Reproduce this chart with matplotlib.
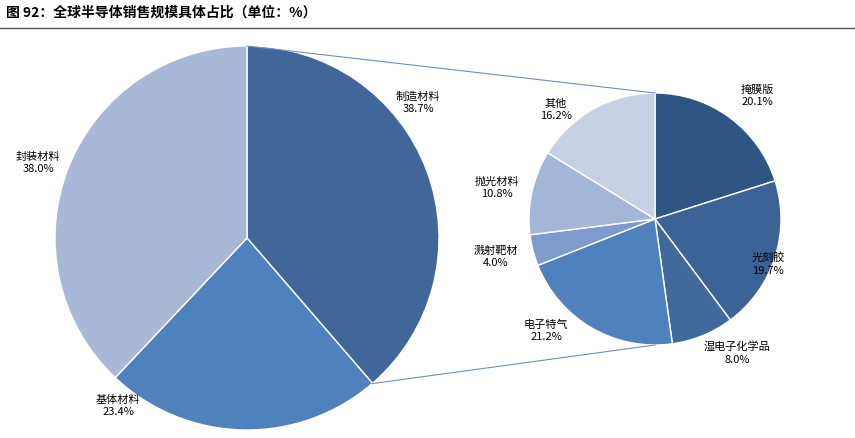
import matplotlib.pyplot as plt
import numpy as np

plt.rcParams['font.family'] = ['Noto Sans CJK SC', 'DejaVu Sans']

big_labels = ['制造材料', '基体材料', '封装材料']
big_values = [38.7, 23.4, 38.0]
big_colors = ['#41679a', '#4f81bd', '#a9b8d6']

small_labels = ['掩膜版', '光刻胶', '湿电子化学品', '电子特气', '溅射靶材', '抛光材料', '其他']
small_values = [20.1, 19.7, 8.0, 21.2, 4.0, 10.8, 16.2]
small_colors = ['#2f5584', '#3b6398', '#41699c', '#4f81bd', '#7e9bcb', '#a4b6d8', '#c6d1e6']

H = 438
fig = plt.figure(figsize=(8.55, 4.38), dpi=100)
ax = fig.add_axes([0, 0, 1, 1])
ax.set_xlim(0, 855)
ax.set_ylim(0, H)
ax.axis('off')

bc, br = (247, H - 238), 192
sc, sr = (655, H - 219), 126

ax.pie(big_values, colors=big_colors, startangle=90, counterclock=False,
       center=bc, radius=br, frame=True,
       wedgeprops=dict(edgecolor='white', linewidth=1))
ax.pie(small_values, colors=small_colors, startangle=90, counterclock=False,
       center=sc, radius=sr, frame=True,
       wedgeprops=dict(edgecolor='white', linewidth=1))
ax.set_xlim(0, 855)
ax.set_ylim(0, H)
ax.set_aspect('auto')
ax.axis('off')

# connector lines
a = np.deg2rad(90 - 360 * big_values[0] / 100)
ax.plot([bc[0], sc[0]], [bc[1] + br, sc[1] + sr], color='#6f8fbf', lw=0.8)
ax.plot([bc[0] + br * np.cos(a), sc[0]], [bc[1] + br * np.sin(a), sc[1] - sr],
        color='#6f8fbf', lw=0.8)

big_pos = [(418, 103), (118, 406), (38, 163)]
for (x, y), lab, v in zip(big_pos, big_labels, big_values):
    ax.text(x, H - y, f'{lab}\n{v:.1f}%', ha='center', va='center', fontsize=8, linespacing=1.3)

small_pos = [(757, 96), (768, 264), (737, 353), (546, 331), (496, 257), (497, 188), (556, 110)]
for (x, y), lab, v in zip(small_pos, small_labels, small_values):
    ax.text(x, H - y, f'{lab}\n{v:.1f}%', ha='center', va='center', fontsize=8, linespacing=1.3)

ax.text(6, H - 13, '图 92：全球半导体销售规模具体占比（单位：%）', ha='left', va='center',
        fontsize=10, fontweight='bold')
ax.plot([0, 855], [H - 28, H - 28], color='#555555', lw=1)

fig.savefig('out.png', dpi=100)
